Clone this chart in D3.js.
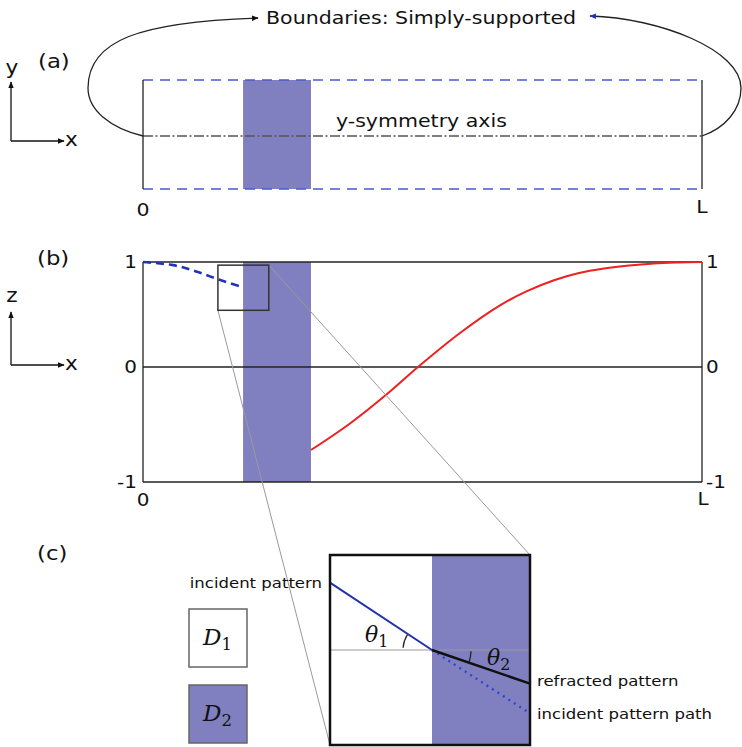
<!DOCTYPE html>
<html><head><meta charset="utf-8">
<script src="https://cdn.jsdelivr.net/npm/d3@7"></script>
<style>body{margin:0;background:#fff} svg{display:block}</style>
</head><body>
<script>
// ---- data ----
const xTicks = [{v:0,label:"0"},{v:1,label:"L"}];
const zTicks = [-1,0,1];
const inclusionSpan = [0.179, 0.3005];
const incidentWave = [[0,1],[0.054,0.97],[0.095,0.91],[0.137,0.83],[0.179,0.76]];
const refractedWave = [[0.3005,-0.722],[0.3703,-0.491],[0.4419,-0.213],[0.4919,0],[0.5671,0.324],[0.6386,0.587],[0.6869,0.722],[0.7352,0.826],[0.78,0.895],[0.8247,0.938],[0.8694,0.967],[0.9141,0.986],[0.9571,0.995],[1,1]];
const zoomWindow = {x:[0.134,0.225], z:[0.54,0.97]};
const insetInterface = 0.51;
const insetIncident = [[0,0.71],[0.51,0]];
const insetRefracted = [[0.51,0],[1,-0.354]];
const insetIncidentPath = [[0.51,0],[1,-0.667]];
const legendDomains = [{label:"D",sub:"1",filled:false},{label:"D",sub:"2",filled:true}];
const panelLabels = ["(a)","(b)","(c)"];

// ---- setup ----
const W = 742, H = 747;
const PURPLE = "#8080c0";
const SX = 1.14;
const FONT = "DejaVu Sans, Verdana, sans-serif";
const SERIF = "DejaVu Serif, Liberation Serif, serif";
const svg = d3.select("body").append("svg").attr("width", W).attr("height", H);

const defs = svg.append("defs");
function marker(id, color){
  defs.append("marker").attr("id", id).attr("viewBox","0 0 10 10").attr("refX",9).attr("refY",5)
    .attr("markerWidth",7).attr("markerHeight",7).attr("markerUnits","userSpaceOnUse").attr("orient","auto")
    .append("path").attr("d","M0,1 L10,5 L0,9 Z").attr("fill", color);
}
marker("arrK","#111"); marker("arrB","#2233bb");

function txt(x, y, s, size, anchor, opts={}){
  const t = svg.append("text").attr("transform", `translate(${x},${y}) scale(${opts.sx||SX},1)`)
    .attr("font-family", opts.family||FONT).attr("font-size", size)
    .attr("text-anchor", anchor||"start").attr("fill", opts.fill||"#111");
  if (opts.italic) t.attr("font-style","italic");
  t.text(s);
  return t;
}

const x = d3.scaleLinear([0,1],[143,702]);
const ya = d3.scaleLinear([-1,0,1],[189,136,80]);
const yb = d3.scaleLinear([-1,0,1],[482,367,262]);
const ux = d3.scaleLinear([0,1],[330,530]);
const vy = d3.scaleLinear([-1,1],[745,555]);

// ---- axes glyphs ----
function axisGlyph(yBase, yTop, vLabel, vLabelY){
  svg.append("path").attr("d", `M11,${yBase} L11,${yTop}`).attr("stroke","#111").attr("stroke-width",1.3).attr("marker-end","url(#arrK)");
  svg.append("path").attr("d", `M11,${yBase} L64,${yBase}`).attr("stroke","#111").attr("stroke-width",1.3).attr("marker-end","url(#arrK)");
  txt(12, vLabelY, vLabel, 19, "middle");
  txt(65, yBase+5, "x", 19, "start");
}
axisGlyph(141, 82, "y", 74);
axisGlyph(365, 312, "z", 302);

txt(38, 68, panelLabels[0], 20, "start");
txt(37, 265, panelLabels[1], 20, "start");
txt(37, 560, panelLabels[2], 20, "start");

// ---- panel (a) ----
svg.append("rect").attr("x", x(inclusionSpan[0])).attr("y", ya(1))
  .attr("width", x(inclusionSpan[1])-x(inclusionSpan[0])).attr("height", ya(-1)-ya(1)).attr("fill", PURPLE);
[1,-1].forEach(v=>{
  svg.append("line").attr("x1", x(0)).attr("x2", x(1)).attr("y1", ya(v)).attr("y2", ya(v))
    .attr("stroke","#4a58d0").attr("stroke-width",1.4).attr("stroke-dasharray","10,7");
});
svg.append("line").attr("x1", x(0)).attr("x2", x(1)).attr("y1", ya(0)).attr("y2", ya(0))
  .attr("stroke","#555").attr("stroke-width",1.3).attr("stroke-dasharray","10,2.5,2,2.5");
[0,1].forEach(v=>{
  svg.append("line").attr("x1", x(v)).attr("x2", x(v)).attr("y1", ya(1)).attr("y2", ya(-1))
    .attr("stroke","#222").attr("stroke-width",1.3);
});
txt(336, 127, "y-symmetry axis", 18, "start");
xTicks.forEach(t=> txt(x(t.v), t.v===0?216:213, t.label, 18, "middle"));

// boundary arrows
const lx = x(0), rx = x(1), my = ya(0);
svg.append("path").attr("d", `M${lx},${my} C${lx-33},${my-8} ${lx-55},${my-26} ${lx-55},${my-48} C${lx-55},${my-96} ${lx-3},${my-114} ${lx+115},${my-118}`)
  .attr("fill","none").attr("stroke","#222").attr("stroke-width",1.3).attr("marker-end","url(#arrK)");
svg.append("path").attr("d", `M${rx},${my} C${rx+23},${my-8} ${rx+39},${my-26} ${rx+39},${my-48} C${rx+39},${my-86} ${rx-42},${my-118} ${rx-112},${my-120}`)
  .attr("fill","none").attr("stroke","#222").attr("stroke-width",1.3).attr("marker-end","url(#arrB)");
txt(266, 24, "Boundaries: Simply-supported", 18, "start");

// ---- panel (b) ----
svg.append("rect").attr("x", x(inclusionSpan[0])).attr("y", yb(1))
  .attr("width", x(inclusionSpan[1])-x(inclusionSpan[0])).attr("height", yb(-1)-yb(1)).attr("fill", PURPLE);
zTicks.forEach(v=>{
  svg.append("line").attr("x1", x(0)).attr("x2", x(1)).attr("y1", yb(v)).attr("y2", yb(v))
    .attr("stroke","#222").attr("stroke-width",1.3);
  const lab = String(v);
  txt(137, yb(v)+6.4, lab, 17.5, "end");
  txt(706, yb(v)+6.4, lab, 17.5, "start");
});
[0,1].forEach(v=>{
  svg.append("line").attr("x1", x(v)).attr("x2", x(v)).attr("y1", yb(1)).attr("y2", yb(-1))
    .attr("stroke","#222").attr("stroke-width",1.3);
});
xTicks.forEach(t=> txt(t.v===0?x(t.v):x(t.v)+1, t.v===0?506:505, t.label, 17.5, "middle"));

const lineB = d3.line().x(d=>x(d[0])).y(d=>yb(d[1])).curve(d3.curveCatmullRom.alpha(0.5));
svg.append("path").attr("d", lineB(incidentWave)).attr("fill","none").attr("stroke","#2233bb")
  .attr("stroke-width",2.6).attr("stroke-dasharray","8,5");
svg.append("path").attr("d", lineB(refractedWave)).attr("fill","none").attr("stroke","#ee2020")
  .attr("stroke-width",2);

// zoom window
const zx0 = x(zoomWindow.x[0]), zx1 = x(zoomWindow.x[1]), zy0 = yb(zoomWindow.z[1]), zy1 = yb(zoomWindow.z[0]);
svg.append("line").attr("x1", zx0).attr("y1", zy1).attr("x2", ux(0)).attr("y2", vy(-1)).attr("stroke","#999").attr("stroke-width",1);
svg.append("line").attr("x1", zx1).attr("y1", zy0).attr("x2", ux(1)).attr("y2", vy(1)).attr("stroke","#999").attr("stroke-width",1);
svg.append("rect").attr("x", zx0).attr("y", zy0).attr("width", zx1-zx0).attr("height", zy1-zy0)
  .attr("fill","none").attr("stroke","#333").attr("stroke-width",1.5);

// ---- panel (c) ----
svg.append("rect").attr("x", ux(0)).attr("y", vy(1)).attr("width", ux(1)-ux(0)).attr("height", vy(-1)-vy(1)).attr("fill","#fff");
svg.append("rect").attr("x", ux(insetInterface)).attr("y", vy(1)).attr("width", ux(1)-ux(insetInterface)).attr("height", vy(-1)-vy(1)).attr("fill", PURPLE);
svg.append("line").attr("x1", ux(0)).attr("x2", ux(1)).attr("y1", vy(0)).attr("y2", vy(0)).attr("stroke","#999").attr("stroke-width",1);
const lineC = d3.line().x(d=>ux(d[0])).y(d=>vy(d[1]));
svg.append("path").attr("d", lineC(insetIncidentPath)).attr("fill","none").attr("stroke","#3344cc").attr("stroke-width",2.4).attr("stroke-dasharray","2,4.5");
svg.append("path").attr("d", lineC(insetIncident)).attr("fill","none").attr("stroke","#2233aa").attr("stroke-width",2);
svg.append("path").attr("d", lineC(insetRefracted)).attr("fill","none").attr("stroke","#111").attr("stroke-width",2.5);
svg.append("rect").attr("x", ux(0)).attr("y", vy(1)).attr("width", ux(1)-ux(0)).attr("height", vy(-1)-vy(1))
  .attr("fill","none").attr("stroke","#111").attr("stroke-width",2.5);

// angle arcs
const cx = ux(insetInterface), cy = vy(0);
const a1 = Math.atan2(vy(insetIncident[0][1]) - cy, ux(insetIncident[0][0]) - cx);
const a2 = Math.atan2(vy(insetRefracted[1][1]) - cy, ux(insetRefracted[1][0]) - cx);
const p1 = d3.path(); p1.arc(cx, cy, 29, -Math.PI + 0.08, a1 - 0.02, false);
svg.append("path").attr("d", p1.toString()).attr("fill","none").attr("stroke","#222").attr("stroke-width",1.3);
const p2 = d3.path(); p2.arc(cx, cy, 39, 0.03, a2 - 0.01, false);
svg.append("path").attr("d", p2.toString()).attr("fill","none").attr("stroke","#222").attr("stroke-width",1.3);

function mathLabel(xp, yp, main, sub, size){
  const t = svg.append("text").attr("transform", `translate(${xp},${yp})`)
    .attr("font-family", SERIF).attr("font-size", size).attr("fill","#111");
  t.append("tspan").attr("font-style","italic").text(main);
  t.append("tspan").attr("font-size", size*0.72).attr("dy", size*0.22).text(sub);
}
mathLabel(365, 642, "θ", "1", 22);
mathLabel(487, 665, "θ", "2", 22);

txt(322, 588, "incident pattern", 14.5, "end");
txt(537, 686, "refracted pattern", 14.5, "start");
txt(537, 719, "incident pattern path", 14.5, "start");

// legend
legendDomains.forEach((d,i)=>{
  const y0 = 609 + i*76;
  svg.append("rect").attr("x",189).attr("y",y0).attr("width",58).attr("height",58)
    .attr("fill", d.filled?PURPLE:"#fff").attr("stroke","#666").attr("stroke-width",1.5);
  mathLabel(203, y0+36, d.label, d.sub, 23);
});
</script>
</body></html>
